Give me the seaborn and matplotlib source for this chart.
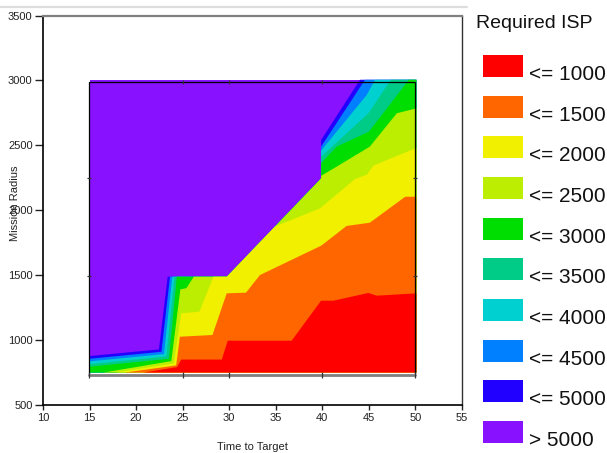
import numpy as np
import matplotlib
matplotlib.use("Agg")
import matplotlib.pyplot as plt
import seaborn as sns
from matplotlib.patches import Rectangle
from matplotlib.lines import Line2D

# ---------------- data ----------------
isp_labels = ["<= 1000", "<= 1500", "<= 2000", "<= 2500", "<= 3000",
              "<= 3500", "<= 4000", "<= 4500", "<= 5000", "> 5000"]
isp_colors = ["#ff0000", "#ff6600", "#f0f000", "#bbee00", "#00dd00",
              "#00cc88", "#00d0d0", "#0080ff", "#2200ff", "#8811ff"]

time_min, time_max = 15.0, 50.1
radius_min, radius_max = 750.0, 3005.0

# iso-ISP boundary curves: (time to target, mission radius)
b1000_t = [20.8, 24.4, 24.85, 29.2, 29.84, 36.7, 39.86, 41.18, 44.94, 45.84, 50.1]
b1000_r = [750, 792, 850, 850, 995, 995, 1303, 1303, 1363, 1342, 1360]

b1500_t = [18.8, 24.3, 24.7, 28.2, 29.73, 31.8, 33.3, 39.9, 42.6, 45.1, 48.9, 50.1]
b1500_r = [750, 805, 1026, 1039, 1360, 1365, 1501, 1728, 1879, 1904, 2104, 2104]

b2000_t = [17.8, 24.05, 24.85, 26.8, 28.3, 29.75, 34.92, 39.75, 43.5, 44.8, 45.5, 50.1]
b2000_r = [750, 820, 1206, 1219, 1488, 1488, 1875, 2015, 2240, 2275, 2345, 2480]

b2500_t = [16.5, 23.78, 24.75, 25.4, 26.2, 29.75, 39.87, 39.87, 41.4, 45.1, 48.0, 50.1]
b2500_r = [750, 838, 1390, 1400, 1488, 1488, 2245, 2265, 2330, 2490, 2747, 2785]

b3000_t = [15, 23.52, 24.38, 29.75, 39.87, 39.87, 41.54, 45.0, 49.3, 50.1]
b3000_r = [795, 856, 1488, 1488, 2245, 2362, 2490, 2605, 3005, 3005]

b3500_t = [15, 23.25, 24.12, 29.75, 39.87, 39.87, 44.95, 47.35, 50.1]
b3500_r = [815, 874, 1488, 1488, 2245, 2412, 2747, 3005, 3005]

b4000_t = [15, 22.99, 23.89, 29.75, 39.87, 39.87, 44.77, 45.66, 50.1]
b4000_r = [836, 892, 1488, 1488, 2245, 2459, 2888, 3005, 3005]

b4500_t = [15, 22.72, 23.64, 29.75, 39.87, 39.87, 44.58, 50.1]
b4500_r = [856, 910, 1488, 1488, 2245, 2490, 3005, 3005]

b5000_t = [15, 22.45, 23.39, 29.75, 39.87, 39.87, 44.05, 50.1]
b5000_r = [877, 928, 1488, 1488, 2245, 2541, 3005, 3005]

boundaries = [(b1000_t, b1000_r), (b1500_t, b1500_r), (b2000_t, b2000_r),
              (b2500_t, b2500_r), (b3000_t, b3000_r), (b3500_t, b3500_r),
              (b4000_t, b4000_r), (b4500_t, b4500_r), (b5000_t, b5000_r)]

# grid breaks marked on the inner frame
grid_t = [25, 30, 40]
grid_r = [1490, 2249]

x_ticks = [10, 15, 20, 25, 30, 35, 40, 45, 50, 55]
y_ticks = [500, 1000, 1500, 2000, 2500, 3000, 3500]

# ---------------- style ----------------
sns.set_style("white")
plt.rcParams["font.family"] = ["Liberation Sans", "DejaVu Sans"]

W, H = 607, 453
fig = plt.figure(figsize=(W / 100, H / 100), dpi=100)
ax = fig.add_axes([43 / W, 1 - 405 / H, 419 / W, 389.5 / H])

# top band (> 5000) over the whole data domain
ax.fill([time_min, time_max, time_max, time_min],
        [radius_min, radius_min, radius_max, radius_max],
        color=isp_colors[-1], lw=0, zorder=1)
# stack regions below each iso-line, from the highest threshold down
for k in range(len(boundaries) - 1, -1, -1):
    bt, br = boundaries[k]
    xs = [time_min] + list(bt) + [time_max]
    ys = [radius_min] + list(br) + [radius_min]
    ax.fill(xs, ys, color=isp_colors[k], lw=0, zorder=2)

# inner frame around the data domain
f_l, f_r, f_b, f_t = 14.9, 49.9, 731, 2984
ax.plot([f_l, f_l, f_r, f_r], [f_b, f_t, f_t, f_b], color="black", lw=0.9, zorder=5)
ax.plot([f_l, f_r], [f_b, f_b], color="#808080", lw=2.0, zorder=5)
ax.plot([f_l] + grid_t + [f_r], [f_b] * (len(grid_t) + 2), ls="none", marker="|",
        ms=4, mew=0.9, color="#333333", zorder=6)
ax.plot(grid_t, [f_t] * len(grid_t), ls="none", marker="|", ms=3, mew=0.9,
        color="#333333", zorder=6)
ax.plot([f_l] * len(grid_r), grid_r, ls="none", marker="_", ms=3, mew=0.9,
        color="#333333", zorder=6)
ax.plot([f_r] * len(grid_r), grid_r, ls="none", marker="_", ms=3, mew=0.9,
        color="#333333", zorder=6)

ax.set_xlim(10, 55)
ax.set_ylim(500, 3500)
ax.set_xticks(x_ticks)
ax.set_yticks(y_ticks)
ax.tick_params(axis="both", labelsize=8, colors="#222222", labelcolor="#222222")
ax.tick_params(axis="y", length=6, width=1, direction="out", pad=1.5, left=True)
ax.tick_params(axis="x", length=3.6, width=1, direction="out", pad=2.5, bottom=True)
for s in ["left", "bottom"]:
    ax.spines[s].set_color("black")
    ax.spines[s].set_linewidth(1.2)
ax.spines["right"].set_color("#333333")
ax.spines["right"].set_linewidth(1.0)
ax.spines["top"].set_color("#808080")
ax.spines["top"].set_linewidth(1.6)

ax.set_xlabel("Time to Target", fontsize=8, labelpad=13.5, color="#222222")
ax.set_ylabel("Mission Radius", fontsize=8, color="#222222")
ax.yaxis.set_label_coords(-0.055, 0.5186)

# light line across the top of the figure
fig.add_artist(Line2D([0, 467 / W], [1 - 7 / H, 1 - 7 / H], color="#dddddd", lw=1.6,
                      transform=fig.transFigure))

# legend
fig.text(476 / W, 1 - 28 / H, "Required ISP", fontsize=14, va="baseline", ha="left", color="#111111")
patch_tops = [55, 95.7, 136.3, 177, 217.7, 258.3, 299, 339.7, 380.3, 421]
for lab, col, top in zip(isp_labels, isp_colors, patch_tops):
    fig.add_artist(Rectangle((483 / W, 1 - (top + 22) / H), 40 / W, 22 / H,
                             facecolor=col, edgecolor="none", transform=fig.transFigure))
    fig.text(529 / W, 1 - (top + 25) / H, lab, fontsize=15, va="baseline", ha="left",
             color="#111111")

fig.savefig("out.png", dpi=100)
